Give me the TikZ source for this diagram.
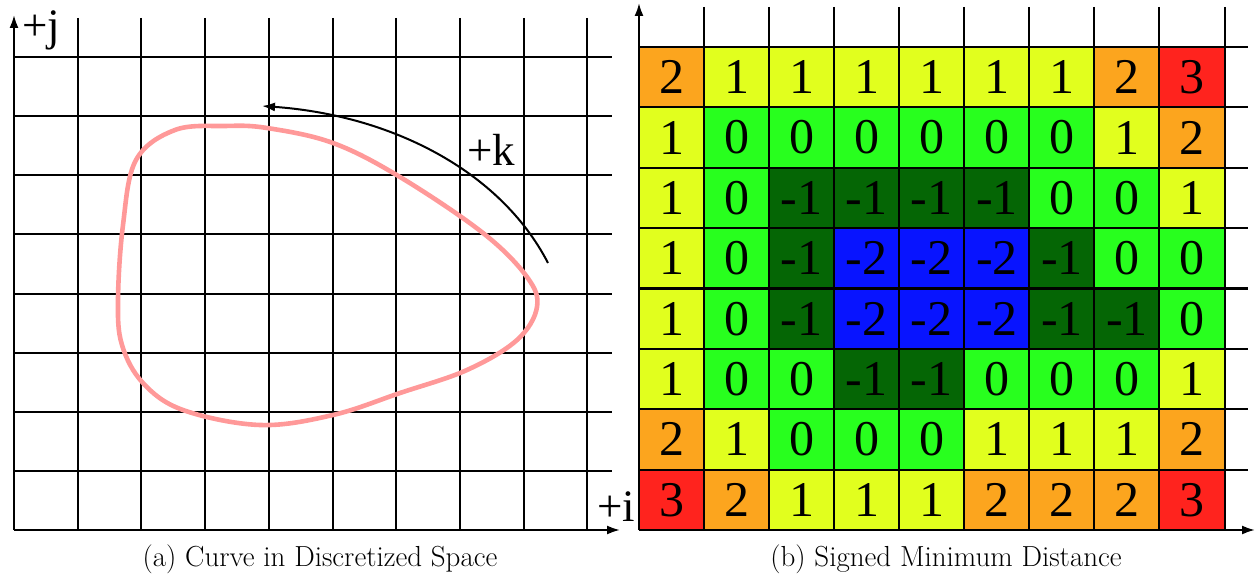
\documentclass[tikz,border=0pt]{standalone}
\usepackage{fontspec}
\newfontfamily\serifnum{Liberation Serif}
\usetikzlibrary{arrows.meta}
\definecolor{curvepink}{RGB}{255,153,153}
\definecolor{sdc0}{RGB}{8,20,255}   % -2
\definecolor{sdc1}{RGB}{5,102,5}    % -1
\definecolor{sdc2}{RGB}{40,255,30}  % 0
\definecolor{sdc3}{RGB}{225,255,30} % 1
\definecolor{sdc4}{RGB}{252,165,30} % 2
\definecolor{sdc5}{RGB}{255,35,30}  % 3

\tikzset{
  gridline/.style={black, line width=2pt},
  axis/.style={black, line width=2pt, -{Latex[length=13pt,width=9pt]}},
  cell/.style={inner sep=0pt, minimum width=65.2pt, minimum height=60.5pt,
    font=\serifnum\fontsize{50}{50}\selectfont},
  axislabel/.style={inner sep=0pt, anchor=base, font=\serifnum\fontsize{45}{45}\selectfont},
  caption/.style={inner sep=0pt, anchor=base, font=\fontsize{29}{31}\selectfont},
}

\begin{document}
\begin{tikzpicture}[x=1pt,y=-1pt]
  \useasboundingbox (0,0) rectangle (1255,577);

  % (a) discretized space
  \foreach \c in {1,...,9}
    \draw[gridline] (14+\c*63.7,18) -- (14+\c*63.7,530);
  \foreach \r in {1,...,8}
    \draw[gridline] (14,530-\r*59.1) -- (612,530-\r*59.1);
  \coordinate (a-o) at (14,530);
  \coordinate (a-jtip) at (14,15);
  \coordinate (a-itip) at (620,530);
  \draw[axis] (a-o) -- (a-jtip);
  \draw[axis] (a-o) -- (a-itip);
  \node[axislabel] (a-j) at (41,41) {+j};

  % closed curve
  \draw[curvepink, line width=4.6pt] plot[smooth cycle, tension=0.6] coordinates {
    (267,128) (333,143) (400,177) (483,233) (527,277) (537,307) (517,340)
    (467,370) (400,393) (333,415) (260,425) (183,410) (143,383) (122,345)
    (118,300) (123,225) (136,160) (175,130) (225,126)};

  % direction of k
  \coordinate (k-from) at (548,263);
  \coordinate (k-to) at (262,106);
  \draw[black, line width=2pt, -{Latex[length=13pt,width=9pt]}]
    (k-from) .. controls (500,170) and (390,115) .. (k-to);
  \node[axislabel] (a-k) at (491,166) {+k};

  \node[caption] (cap-a) at (320,566) {(a) Curve in Discretized Space};

  % (b) signed minimum distance
  \foreach \vals [count=\r] in {
      {2,1,1,1,1,1,1,2,3},
      {1,0,0,0,0,0,0,1,2},
      {1,0,-1,-1,-1,-1,0,0,1},
      {1,0,-1,-2,-2,-2,-1,0,0},
      {1,0,-1,-2,-2,-2,-1,-1,0},
      {1,0,0,-1,-1,0,0,0,1},
      {2,1,0,0,0,1,1,1,2},
      {3,2,1,1,1,2,2,2,3}}{
    \foreach \v [count=\c] in \vals {
      \pgfmathtruncatemacro\idx{\v+2}
      \node[cell, fill=sdc\idx] (cell-\r-\c)
        at (639+\c*65.06-32.53, 47+\r*60.375-30.19) {\v};
    }
  }
  \foreach \c in {1,...,9}
    \draw[gridline] (639+\c*65.06,7) -- (639+\c*65.06,530);
  \foreach \r in {1,...,8}
    \draw[gridline] (639,530-\r*60.375) -- (1248,530-\r*60.375);
  \coordinate (b-o) at (639,530);
  \coordinate (b-jtip) at (639,3);
  \coordinate (b-itip) at (1255,530);
  \draw[axis] (b-o) -- (b-jtip);
  \draw[axis] (b-o) -- (b-itip);
  \node[axislabel] (b-i) at (616,521) {+i};

  \node[caption] (cap-b) at (946,566) {(b) Signed Minimum Distance};
\end{tikzpicture}
\end{document}
